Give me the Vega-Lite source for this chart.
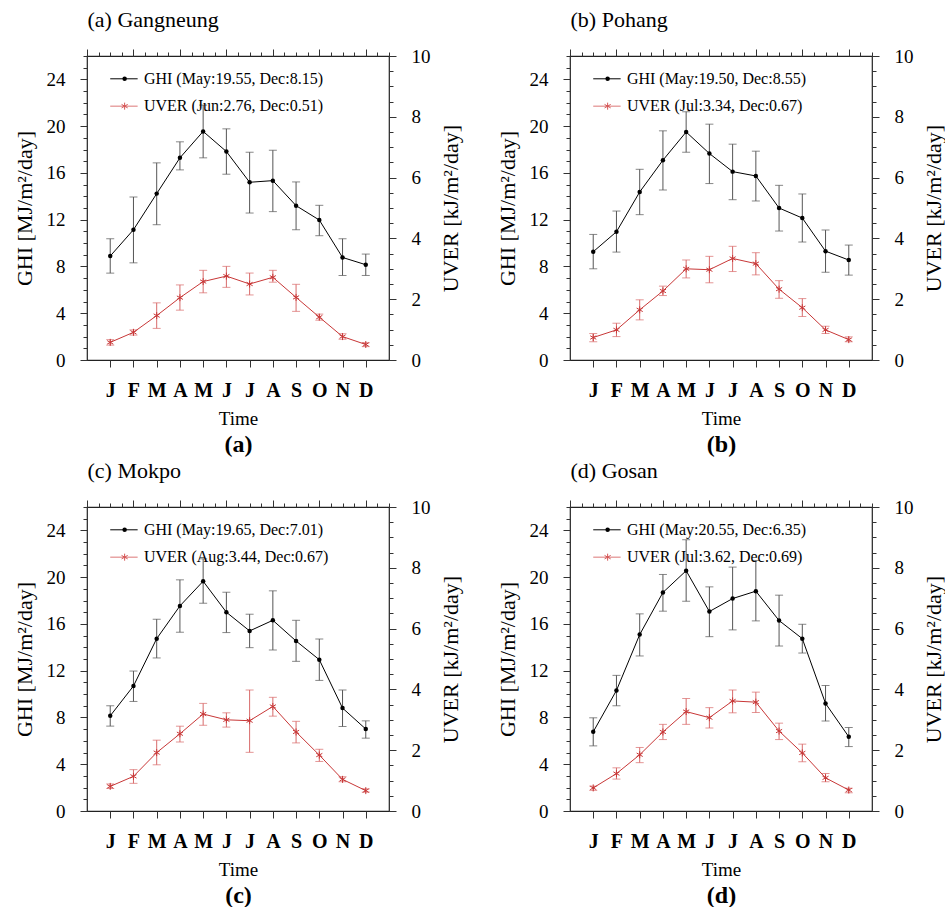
{
"$schema":"https://vega.github.io/schema/vega-lite/v6.json",
"background":"white",
"padding":{"left":12,"top":7,"right":0,"bottom":0},
"datasets":{
"main":[
{"station":"Gangneung","var":"GHI","month":1,"mean":8.89,"lo":7.43,"hi":10.37},
{"station":"Gangneung","var":"GHI","month":2,"mean":11.14,"lo":8.31,"hi":13.94},
{"station":"Gangneung","var":"GHI","month":3,"mean":14.23,"lo":11.57,"hi":16.86},
{"station":"Gangneung","var":"GHI","month":4,"mean":17.29,"lo":16.26,"hi":18.66},
{"station":"Gangneung","var":"GHI","month":5,"mean":19.55,"lo":17.29,"hi":21.8},
{"station":"Gangneung","var":"GHI","month":6,"mean":17.83,"lo":15.89,"hi":19.77},
{"station":"Gangneung","var":"GHI","month":7,"mean":15.2,"lo":12.57,"hi":17.77},
{"station":"Gangneung","var":"GHI","month":8,"mean":15.34,"lo":12.69,"hi":17.94},
{"station":"Gangneung","var":"GHI","month":9,"mean":13.2,"lo":11.14,"hi":15.23},
{"station":"Gangneung","var":"GHI","month":10,"mean":11.97,"lo":10.63,"hi":13.23},
{"station":"Gangneung","var":"GHI","month":11,"mean":8.77,"lo":7.23,"hi":10.37},
{"station":"Gangneung","var":"GHI","month":12,"mean":8.15,"lo":7.23,"hi":9.06},
{"station":"Gangneung","var":"UVER","month":1,"mean":0.58,"lo":0.49,"hi":0.67},
{"station":"Gangneung","var":"UVER","month":2,"mean":0.91,"lo":0.82,"hi":0.99},
{"station":"Gangneung","var":"UVER","month":3,"mean":1.46,"lo":1.04,"hi":1.88},
{"station":"Gangneung","var":"UVER","month":4,"mean":2.05,"lo":1.64,"hi":2.47},
{"station":"Gangneung","var":"UVER","month":5,"mean":2.58,"lo":2.21,"hi":2.95},
{"station":"Gangneung","var":"UVER","month":6,"mean":2.76,"lo":2.39,"hi":3.08},
{"station":"Gangneung","var":"UVER","month":7,"mean":2.5,"lo":2.14,"hi":2.86},
{"station":"Gangneung","var":"UVER","month":8,"mean":2.72,"lo":2.56,"hi":2.95},
{"station":"Gangneung","var":"UVER","month":9,"mean":2.06,"lo":1.6,"hi":2.49},
{"station":"Gangneung","var":"UVER","month":10,"mean":1.41,"lo":1.31,"hi":1.51},
{"station":"Gangneung","var":"UVER","month":11,"mean":0.77,"lo":0.68,"hi":0.86},
{"station":"Gangneung","var":"UVER","month":12,"mean":0.51,"lo":0.44,"hi":0.57},
{"station":"Pohang","var":"GHI","month":1,"mean":9.26,"lo":7.8,"hi":10.74},
{"station":"Pohang","var":"GHI","month":2,"mean":10.97,"lo":9.23,"hi":12.74},
{"station":"Pohang","var":"GHI","month":3,"mean":14.37,"lo":12.43,"hi":16.31},
{"station":"Pohang","var":"GHI","month":4,"mean":17.09,"lo":14.54,"hi":19.6},
{"station":"Pohang","var":"GHI","month":5,"mean":19.5,"lo":17.77,"hi":21.23},
{"station":"Pohang","var":"GHI","month":6,"mean":17.66,"lo":15.09,"hi":20.17},
{"station":"Pohang","var":"GHI","month":7,"mean":16.11,"lo":13.71,"hi":18.46},
{"station":"Pohang","var":"GHI","month":8,"mean":15.74,"lo":13.6,"hi":17.86},
{"station":"Pohang","var":"GHI","month":9,"mean":13.0,"lo":11.03,"hi":14.94},
{"station":"Pohang","var":"GHI","month":10,"mean":12.14,"lo":10.09,"hi":14.2},
{"station":"Pohang","var":"GHI","month":11,"mean":9.31,"lo":7.51,"hi":11.11},
{"station":"Pohang","var":"GHI","month":12,"mean":8.55,"lo":7.26,"hi":9.83},
{"station":"Pohang","var":"UVER","month":1,"mean":0.74,"lo":0.6,"hi":0.87},
{"station":"Pohang","var":"UVER","month":2,"mean":0.99,"lo":0.77,"hi":1.21},
{"station":"Pohang","var":"UVER","month":3,"mean":1.65,"lo":1.32,"hi":1.98},
{"station":"Pohang","var":"UVER","month":4,"mean":2.27,"lo":2.12,"hi":2.43},
{"station":"Pohang","var":"UVER","month":5,"mean":3.0,"lo":2.7,"hi":3.29},
{"station":"Pohang","var":"UVER","month":6,"mean":2.97,"lo":2.54,"hi":3.41},
{"station":"Pohang","var":"UVER","month":7,"mean":3.34,"lo":2.91,"hi":3.74},
{"station":"Pohang","var":"UVER","month":8,"mean":3.17,"lo":2.8,"hi":3.53},
{"station":"Pohang","var":"UVER","month":9,"mean":2.33,"lo":2.03,"hi":2.61},
{"station":"Pohang","var":"UVER","month":10,"mean":1.72,"lo":1.43,"hi":2.02},
{"station":"Pohang","var":"UVER","month":11,"mean":0.99,"lo":0.87,"hi":1.11},
{"station":"Pohang","var":"UVER","month":12,"mean":0.67,"lo":0.6,"hi":0.76},
{"station":"Mokpo","var":"GHI","month":1,"mean":8.14,"lo":7.26,"hi":9.0},
{"station":"Mokpo","var":"GHI","month":2,"mean":10.69,"lo":9.37,"hi":11.97},
{"station":"Mokpo","var":"GHI","month":3,"mean":14.74,"lo":13.09,"hi":16.4},
{"station":"Mokpo","var":"GHI","month":4,"mean":17.54,"lo":15.29,"hi":19.77},
{"station":"Mokpo","var":"GHI","month":5,"mean":19.65,"lo":17.77,"hi":21.57},
{"station":"Mokpo","var":"GHI","month":6,"mean":17.0,"lo":15.26,"hi":18.71},
{"station":"Mokpo","var":"GHI","month":7,"mean":15.4,"lo":13.97,"hi":16.83},
{"station":"Mokpo","var":"GHI","month":8,"mean":16.31,"lo":13.77,"hi":18.83},
{"station":"Mokpo","var":"GHI","month":9,"mean":14.54,"lo":12.8,"hi":16.31},
{"station":"Mokpo","var":"GHI","month":10,"mean":12.94,"lo":11.17,"hi":14.71},
{"station":"Mokpo","var":"GHI","month":11,"mean":8.8,"lo":7.23,"hi":10.34},
{"station":"Mokpo","var":"GHI","month":12,"mean":7.01,"lo":6.23,"hi":7.71},
{"station":"Mokpo","var":"UVER","month":1,"mean":0.81,"lo":0.74,"hi":0.89},
{"station":"Mokpo","var":"UVER","month":2,"mean":1.14,"lo":0.91,"hi":1.36},
{"station":"Mokpo","var":"UVER","month":3,"mean":1.92,"lo":1.52,"hi":2.33},
{"station":"Mokpo","var":"UVER","month":4,"mean":2.54,"lo":2.27,"hi":2.79},
{"station":"Mokpo","var":"UVER","month":5,"mean":3.19,"lo":2.82,"hi":3.54},
{"station":"Mokpo","var":"UVER","month":6,"mean":3.0,"lo":2.76,"hi":3.23},
{"station":"Mokpo","var":"UVER","month":7,"mean":2.97,"lo":1.93,"hi":3.98},
{"station":"Mokpo","var":"UVER","month":8,"mean":3.44,"lo":3.12,"hi":3.74},
{"station":"Mokpo","var":"UVER","month":9,"mean":2.6,"lo":2.24,"hi":2.95},
{"station":"Mokpo","var":"UVER","month":10,"mean":1.84,"lo":1.63,"hi":2.03},
{"station":"Mokpo","var":"UVER","month":11,"mean":1.04,"lo":0.96,"hi":1.13},
{"station":"Mokpo","var":"UVER","month":12,"mean":0.67,"lo":0.62,"hi":0.73},
{"station":"Gosan","var":"GHI","month":1,"mean":6.77,"lo":5.57,"hi":7.97},
{"station":"Gosan","var":"GHI","month":2,"mean":10.31,"lo":9.0,"hi":11.6},
{"station":"Gosan","var":"GHI","month":3,"mean":15.09,"lo":13.26,"hi":16.86},
{"station":"Gosan","var":"GHI","month":4,"mean":18.69,"lo":17.09,"hi":20.23},
{"station":"Gosan","var":"GHI","month":5,"mean":20.55,"lo":17.94,"hi":23.2},
{"station":"Gosan","var":"GHI","month":6,"mean":17.06,"lo":14.91,"hi":19.17},
{"station":"Gosan","var":"GHI","month":7,"mean":18.17,"lo":15.49,"hi":20.86},
{"station":"Gosan","var":"GHI","month":8,"mean":18.8,"lo":16.26,"hi":21.43},
{"station":"Gosan","var":"GHI","month":9,"mean":16.29,"lo":14.11,"hi":18.46},
{"station":"Gosan","var":"GHI","month":10,"mean":14.74,"lo":13.51,"hi":15.97},
{"station":"Gosan","var":"GHI","month":11,"mean":9.2,"lo":7.69,"hi":10.74},
{"station":"Gosan","var":"GHI","month":12,"mean":6.35,"lo":5.51,"hi":7.14},
{"station":"Gosan","var":"UVER","month":1,"mean":0.76,"lo":0.68,"hi":0.82},
{"station":"Gosan","var":"UVER","month":2,"mean":1.23,"lo":1.05,"hi":1.42},
{"station":"Gosan","var":"UVER","month":3,"mean":1.85,"lo":1.59,"hi":2.09},
{"station":"Gosan","var":"UVER","month":4,"mean":2.6,"lo":2.35,"hi":2.85},
{"station":"Gosan","var":"UVER","month":5,"mean":3.27,"lo":2.85,"hi":3.7},
{"station":"Gosan","var":"UVER","month":6,"mean":3.07,"lo":2.73,"hi":3.4},
{"station":"Gosan","var":"UVER","month":7,"mean":3.62,"lo":3.23,"hi":3.98},
{"station":"Gosan","var":"UVER","month":8,"mean":3.58,"lo":3.24,"hi":3.91},
{"station":"Gosan","var":"UVER","month":9,"mean":2.63,"lo":2.35,"hi":2.89},
{"station":"Gosan","var":"UVER","month":10,"mean":1.91,"lo":1.62,"hi":2.2},
{"station":"Gosan","var":"UVER","month":11,"mean":1.09,"lo":0.96,"hi":1.23},
{"station":"Gosan","var":"UVER","month":12,"mean":0.69,"lo":0.6,"hi":0.75}
],
"legend":[
{"station":"Gangneung","var":"GHI","label":"GHI (May:19.55, Dec:8.15)"},
{"station":"Gangneung","var":"UVER","label":"UVER (Jun:2.76, Dec:0.51)"},
{"station":"Pohang","var":"GHI","label":"GHI (May:19.50, Dec:8.55)"},
{"station":"Pohang","var":"UVER","label":"UVER (Jul:3.34, Dec:0.67)"},
{"station":"Mokpo","var":"GHI","label":"GHI (May:19.65, Dec:7.01)"},
{"station":"Mokpo","var":"UVER","label":"UVER (Aug:3.44, Dec:0.67)"},
{"station":"Gosan","var":"GHI","label":"GHI (May:20.55, Dec:6.35)"},
{"station":"Gosan","var":"UVER","label":"UVER (Jul:3.62, Dec:0.69)"}
]
},
"spacing":1,
"vconcat":[
{"hconcat":[
{"width":302,"height":304,
"layer":[
{"data":{"name":"main"},"transform":[{"filter":"datum.station==='Gangneung' && datum.var==='GHI'"}],
"encoding":{"x":{"field":"month","type":"quantitative","scale":{"domain":[0,13],"nice":false,"zero":false},"axis":{"orient":"bottom","values":[1,2,3,4,5,6,7,8,9,10,11,12],"labelExpr":"['J','F','M','A','M','J','J','A','S','O','N','D'][datum.value-1]","labelFontSize":20,"labelFontWeight":"bold","labelBaseline":"alphabetic","labelPadding":29,"tickSize":7,"title":"Time","titleFontSize":19,"titleY":64,"titleBaseline":"alphabetic"}}},
"layer":[
{"mark":{"type":"rule","color":"#555","strokeWidth":1},"encoding":{"y":{"field":"lo","type":"quantitative","scale":{"domain":[0,26],"nice":false,"zero":false},"axis":{"orient":"left","values":[0,4,8,12,16,20,24],"tickSize":7,"labelPadding":15,"labelFontSize":19,"title":"GHI [MJ/m²/day]","titleFontSize":22,"titleX":-56,"titleAngle":270,"titleBaseline":"alphabetic","titleAlign":"center"}},"y2":{"field":"hi"}}},
{"mark":{"type":"tick","orient":"horizontal","size":8,"thickness":1,"color":"#555"},"encoding":{"y":{"field":"lo","type":"quantitative","scale":{"domain":[0,26],"nice":false,"zero":false},"axis":{"orient":"left","values":[0,4,8,12,16,20,24],"tickSize":7,"labelPadding":15,"labelFontSize":19,"title":"GHI [MJ/m²/day]","titleFontSize":22,"titleX":-56,"titleAngle":270,"titleBaseline":"alphabetic","titleAlign":"center"}}}},
{"mark":{"type":"tick","orient":"horizontal","size":8,"thickness":1,"color":"#555"},"encoding":{"y":{"field":"hi","type":"quantitative","scale":{"domain":[0,26],"nice":false,"zero":false},"axis":{"orient":"left","values":[0,4,8,12,16,20,24],"tickSize":7,"labelPadding":15,"labelFontSize":19,"title":"GHI [MJ/m²/day]","titleFontSize":22,"titleX":-56,"titleAngle":270,"titleBaseline":"alphabetic","titleAlign":"center"}}}},
{"mark":{"type":"line","color":"#000","strokeWidth":1},"encoding":{"y":{"field":"mean","type":"quantitative","scale":{"domain":[0,26],"nice":false,"zero":false},"axis":{"orient":"left","values":[0,4,8,12,16,20,24],"tickSize":7,"labelPadding":15,"labelFontSize":19,"title":"GHI [MJ/m²/day]","titleFontSize":22,"titleX":-56,"titleAngle":270,"titleBaseline":"alphabetic","titleAlign":"center"}}}},
{"mark":{"type":"point","shape":"circle","filled":true,"color":"#000","size":20,"opacity":1},"encoding":{"y":{"field":"mean","type":"quantitative","scale":{"domain":[0,26],"nice":false,"zero":false},"axis":{"orient":"left","values":[0,4,8,12,16,20,24],"tickSize":7,"labelPadding":15,"labelFontSize":19,"title":"GHI [MJ/m²/day]","titleFontSize":22,"titleX":-56,"titleAngle":270,"titleBaseline":"alphabetic","titleAlign":"center"}}}}
]},
{"data":{"name":"main"},"transform":[{"filter":"datum.station==='Gangneung' && datum.var==='UVER'"}],
"encoding":{"x":{"field":"month","type":"quantitative","scale":{"domain":[0,13],"nice":false,"zero":false},"axis":{"orient":"bottom","labels":false,"ticks":false,"domain":false,"title":"(a)","titleFontSize":24,"titleFontWeight":"bold","titleY":91,"titleBaseline":"alphabetic"}}},
"layer":[
{"mark":{"type":"rule","color":"#d86a6a","strokeWidth":1},"encoding":{"y":{"field":"lo","type":"quantitative","scale":{"domain":[0,10],"nice":false,"zero":false},"axis":{"orient":"right","values":[0,2,4,6,8,10],"tickSize":7,"labelPadding":15,"labelFontSize":19,"title":"UVER [kJ/m²/day]","titleFontSize":22,"titleX":68,"titleAngle":270,"titleBaseline":"alphabetic","titleAlign":"center"}},"y2":{"field":"hi"}}},
{"mark":{"type":"tick","orient":"horizontal","size":8,"thickness":1,"color":"#d86a6a"},"encoding":{"y":{"field":"lo","type":"quantitative","scale":{"domain":[0,10],"nice":false,"zero":false},"axis":{"orient":"right","values":[0,2,4,6,8,10],"tickSize":7,"labelPadding":15,"labelFontSize":19,"title":"UVER [kJ/m²/day]","titleFontSize":22,"titleX":68,"titleAngle":270,"titleBaseline":"alphabetic","titleAlign":"center"}}}},
{"mark":{"type":"tick","orient":"horizontal","size":8,"thickness":1,"color":"#d86a6a"},"encoding":{"y":{"field":"hi","type":"quantitative","scale":{"domain":[0,10],"nice":false,"zero":false},"axis":{"orient":"right","values":[0,2,4,6,8,10],"tickSize":7,"labelPadding":15,"labelFontSize":19,"title":"UVER [kJ/m²/day]","titleFontSize":22,"titleX":68,"titleAngle":270,"titleBaseline":"alphabetic","titleAlign":"center"}}}},
{"mark":{"type":"line","color":"#c83737","strokeWidth":1},"encoding":{"y":{"field":"mean","type":"quantitative","scale":{"domain":[0,10],"nice":false,"zero":false},"axis":{"orient":"right","values":[0,2,4,6,8,10],"tickSize":7,"labelPadding":15,"labelFontSize":19,"title":"UVER [kJ/m²/day]","titleFontSize":22,"titleX":68,"titleAngle":270,"titleBaseline":"alphabetic","titleAlign":"center"}}}},
{"mark":{"type":"point","shape":"M0,-1L0,1M-0.87,-0.5L0.87,0.5M-0.87,0.5L0.87,-0.5","filled":false,"color":"#c83737","strokeWidth":1,"size":49,"opacity":1},"encoding":{"y":{"field":"mean","type":"quantitative","scale":{"domain":[0,10],"nice":false,"zero":false},"axis":{"orient":"right","values":[0,2,4,6,8,10],"tickSize":7,"labelPadding":15,"labelFontSize":19,"title":"UVER [kJ/m²/day]","titleFontSize":22,"titleX":68,"titleAngle":270,"titleBaseline":"alphabetic","titleAlign":"center"}}}}
]},
{"data":{"name":"legend"},"transform":[{"filter":"datum.station==='Gangneung' && datum.var==='GHI'"}],
"encoding":{"y":{"datum":24.05,"type":"quantitative","scale":{"domain":[0,26],"nice":false,"zero":false},"axis":{"orient":"left","values":[0,1,2,3,4,5,6,7,8,9,10,11,12,13,14,15,16,17,18,19,20,21,22,23,24,25,26],"tickSize":4,"labels":false,"title":null}}},
"layer":[
{"mark":{"type":"rule","color":"#000","strokeWidth":1},"encoding":{"x":{"datum":1.0,"type":"quantitative","scale":{"domain":[0,13],"nice":false,"zero":false},"axis":{"orient":"top","values":[0,2,4,6,8,10,12],"tickSize":7,"labels":false,"title":"(a) Gangneung","titleFontSize":22,"titleX":0,"titleY":-30,"titleAlign":"left","titleAnchor":"start","titleBaseline":"alphabetic"}},"x2":{"datum":2.18}}},
{"mark":{"type":"point","shape":"circle","filled":true,"color":"#000","size":20,"opacity":1},"encoding":{"x":{"datum":1.62,"type":"quantitative","scale":{"domain":[0,13],"nice":false,"zero":false},"axis":{"orient":"top","values":[0,2,4,6,8,10,12],"tickSize":7,"labels":false,"title":"(a) Gangneung","titleFontSize":22,"titleX":0,"titleY":-30,"titleAlign":"left","titleAnchor":"start","titleBaseline":"alphabetic"}}}},
{"mark":{"type":"text","align":"left","baseline":"middle","fontSize":16,"font":"Liberation Serif","color":"#000"},"encoding":{"x":{"datum":2.45,"type":"quantitative","scale":{"domain":[0,13],"nice":false,"zero":false},"axis":{"orient":"top","values":[0,2,4,6,8,10,12],"tickSize":7,"labels":false,"title":"(a) Gangneung","titleFontSize":22,"titleX":0,"titleY":-30,"titleAlign":"left","titleAnchor":"start","titleBaseline":"alphabetic"}},"text":{"field":"label"}}}
]},
{"data":{"name":"legend"},"transform":[{"filter":"datum.station==='Gangneung' && datum.var==='UVER'"}],
"encoding":{"y":{"datum":8.35,"type":"quantitative","scale":{"domain":[0,10],"nice":false,"zero":false},"axis":{"orient":"right","values":[0,0.5,1,1.5,2,2.5,3,3.5,4,4.5,5,5.5,6,6.5,7,7.5,8,8.5,9,9.5,10],"tickSize":4,"labels":false,"title":null}}},
"layer":[
{"mark":{"type":"rule","color":"#dd7777","strokeWidth":1},"encoding":{"x":{"datum":1.0,"type":"quantitative","scale":{"domain":[0,13],"nice":false,"zero":false},"axis":{"orient":"top","values":[0,0.5,1,1.5,2,2.5,3,3.5,4,4.5,5,5.5,6,6.5,7,7.5,8,8.5,9,9.5,10,10.5,11,11.5,12,12.5,13],"tickSize":4,"labels":false,"title":null}},"x2":{"datum":2.18}}},
{"mark":{"type":"point","shape":"M0,-1L0,1M-0.87,-0.5L0.87,0.5M-0.87,0.5L0.87,-0.5","filled":false,"color":"#d55555","strokeWidth":1,"size":49,"opacity":1},"encoding":{"x":{"datum":1.62,"type":"quantitative","scale":{"domain":[0,13],"nice":false,"zero":false},"axis":{"orient":"top","values":[0,0.5,1,1.5,2,2.5,3,3.5,4,4.5,5,5.5,6,6.5,7,7.5,8,8.5,9,9.5,10,10.5,11,11.5,12,12.5,13],"tickSize":4,"labels":false,"title":null}}}},
{"mark":{"type":"text","align":"left","baseline":"middle","fontSize":16,"font":"Liberation Serif","color":"#000"},"encoding":{"x":{"datum":2.45,"type":"quantitative","scale":{"domain":[0,13],"nice":false,"zero":false},"axis":{"orient":"top","values":[0,0.5,1,1.5,2,2.5,3,3.5,4,4.5,5,5.5,6,6.5,7,7.5,8,8.5,9,9.5,10,10.5,11,11.5,12,12.5,13],"tickSize":4,"labels":false,"title":null}},"text":{"field":"label"}}}
]}
],
"resolve":{"scale":{"y":"independent"},"axis":{"x":"independent","y":"independent"}}
},
{"width":302,"height":304,
"layer":[
{"data":{"name":"main"},"transform":[{"filter":"datum.station==='Pohang' && datum.var==='GHI'"}],
"encoding":{"x":{"field":"month","type":"quantitative","scale":{"domain":[0,13],"nice":false,"zero":false},"axis":{"orient":"bottom","values":[1,2,3,4,5,6,7,8,9,10,11,12],"labelExpr":"['J','F','M','A','M','J','J','A','S','O','N','D'][datum.value-1]","labelFontSize":20,"labelFontWeight":"bold","labelBaseline":"alphabetic","labelPadding":29,"tickSize":7,"title":"Time","titleFontSize":19,"titleY":64,"titleBaseline":"alphabetic"}}},
"layer":[
{"mark":{"type":"rule","color":"#555","strokeWidth":1},"encoding":{"y":{"field":"lo","type":"quantitative","scale":{"domain":[0,26],"nice":false,"zero":false},"axis":{"orient":"left","values":[0,4,8,12,16,20,24],"tickSize":7,"labelPadding":15,"labelFontSize":19,"title":"GHI [MJ/m²/day]","titleFontSize":22,"titleX":-56,"titleAngle":270,"titleBaseline":"alphabetic","titleAlign":"center"}},"y2":{"field":"hi"}}},
{"mark":{"type":"tick","orient":"horizontal","size":8,"thickness":1,"color":"#555"},"encoding":{"y":{"field":"lo","type":"quantitative","scale":{"domain":[0,26],"nice":false,"zero":false},"axis":{"orient":"left","values":[0,4,8,12,16,20,24],"tickSize":7,"labelPadding":15,"labelFontSize":19,"title":"GHI [MJ/m²/day]","titleFontSize":22,"titleX":-56,"titleAngle":270,"titleBaseline":"alphabetic","titleAlign":"center"}}}},
{"mark":{"type":"tick","orient":"horizontal","size":8,"thickness":1,"color":"#555"},"encoding":{"y":{"field":"hi","type":"quantitative","scale":{"domain":[0,26],"nice":false,"zero":false},"axis":{"orient":"left","values":[0,4,8,12,16,20,24],"tickSize":7,"labelPadding":15,"labelFontSize":19,"title":"GHI [MJ/m²/day]","titleFontSize":22,"titleX":-56,"titleAngle":270,"titleBaseline":"alphabetic","titleAlign":"center"}}}},
{"mark":{"type":"line","color":"#000","strokeWidth":1},"encoding":{"y":{"field":"mean","type":"quantitative","scale":{"domain":[0,26],"nice":false,"zero":false},"axis":{"orient":"left","values":[0,4,8,12,16,20,24],"tickSize":7,"labelPadding":15,"labelFontSize":19,"title":"GHI [MJ/m²/day]","titleFontSize":22,"titleX":-56,"titleAngle":270,"titleBaseline":"alphabetic","titleAlign":"center"}}}},
{"mark":{"type":"point","shape":"circle","filled":true,"color":"#000","size":20,"opacity":1},"encoding":{"y":{"field":"mean","type":"quantitative","scale":{"domain":[0,26],"nice":false,"zero":false},"axis":{"orient":"left","values":[0,4,8,12,16,20,24],"tickSize":7,"labelPadding":15,"labelFontSize":19,"title":"GHI [MJ/m²/day]","titleFontSize":22,"titleX":-56,"titleAngle":270,"titleBaseline":"alphabetic","titleAlign":"center"}}}}
]},
{"data":{"name":"main"},"transform":[{"filter":"datum.station==='Pohang' && datum.var==='UVER'"}],
"encoding":{"x":{"field":"month","type":"quantitative","scale":{"domain":[0,13],"nice":false,"zero":false},"axis":{"orient":"bottom","labels":false,"ticks":false,"domain":false,"title":"(b)","titleFontSize":24,"titleFontWeight":"bold","titleY":91,"titleBaseline":"alphabetic"}}},
"layer":[
{"mark":{"type":"rule","color":"#d86a6a","strokeWidth":1},"encoding":{"y":{"field":"lo","type":"quantitative","scale":{"domain":[0,10],"nice":false,"zero":false},"axis":{"orient":"right","values":[0,2,4,6,8,10],"tickSize":7,"labelPadding":15,"labelFontSize":19,"title":"UVER [kJ/m²/day]","titleFontSize":22,"titleX":68,"titleAngle":270,"titleBaseline":"alphabetic","titleAlign":"center"}},"y2":{"field":"hi"}}},
{"mark":{"type":"tick","orient":"horizontal","size":8,"thickness":1,"color":"#d86a6a"},"encoding":{"y":{"field":"lo","type":"quantitative","scale":{"domain":[0,10],"nice":false,"zero":false},"axis":{"orient":"right","values":[0,2,4,6,8,10],"tickSize":7,"labelPadding":15,"labelFontSize":19,"title":"UVER [kJ/m²/day]","titleFontSize":22,"titleX":68,"titleAngle":270,"titleBaseline":"alphabetic","titleAlign":"center"}}}},
{"mark":{"type":"tick","orient":"horizontal","size":8,"thickness":1,"color":"#d86a6a"},"encoding":{"y":{"field":"hi","type":"quantitative","scale":{"domain":[0,10],"nice":false,"zero":false},"axis":{"orient":"right","values":[0,2,4,6,8,10],"tickSize":7,"labelPadding":15,"labelFontSize":19,"title":"UVER [kJ/m²/day]","titleFontSize":22,"titleX":68,"titleAngle":270,"titleBaseline":"alphabetic","titleAlign":"center"}}}},
{"mark":{"type":"line","color":"#c83737","strokeWidth":1},"encoding":{"y":{"field":"mean","type":"quantitative","scale":{"domain":[0,10],"nice":false,"zero":false},"axis":{"orient":"right","values":[0,2,4,6,8,10],"tickSize":7,"labelPadding":15,"labelFontSize":19,"title":"UVER [kJ/m²/day]","titleFontSize":22,"titleX":68,"titleAngle":270,"titleBaseline":"alphabetic","titleAlign":"center"}}}},
{"mark":{"type":"point","shape":"M0,-1L0,1M-0.87,-0.5L0.87,0.5M-0.87,0.5L0.87,-0.5","filled":false,"color":"#c83737","strokeWidth":1,"size":49,"opacity":1},"encoding":{"y":{"field":"mean","type":"quantitative","scale":{"domain":[0,10],"nice":false,"zero":false},"axis":{"orient":"right","values":[0,2,4,6,8,10],"tickSize":7,"labelPadding":15,"labelFontSize":19,"title":"UVER [kJ/m²/day]","titleFontSize":22,"titleX":68,"titleAngle":270,"titleBaseline":"alphabetic","titleAlign":"center"}}}}
]},
{"data":{"name":"legend"},"transform":[{"filter":"datum.station==='Pohang' && datum.var==='GHI'"}],
"encoding":{"y":{"datum":24.05,"type":"quantitative","scale":{"domain":[0,26],"nice":false,"zero":false},"axis":{"orient":"left","values":[0,1,2,3,4,5,6,7,8,9,10,11,12,13,14,15,16,17,18,19,20,21,22,23,24,25,26],"tickSize":4,"labels":false,"title":null}}},
"layer":[
{"mark":{"type":"rule","color":"#000","strokeWidth":1},"encoding":{"x":{"datum":1.0,"type":"quantitative","scale":{"domain":[0,13],"nice":false,"zero":false},"axis":{"orient":"top","values":[0,2,4,6,8,10,12],"tickSize":7,"labels":false,"title":"(b) Pohang","titleFontSize":22,"titleX":0,"titleY":-30,"titleAlign":"left","titleAnchor":"start","titleBaseline":"alphabetic"}},"x2":{"datum":2.18}}},
{"mark":{"type":"point","shape":"circle","filled":true,"color":"#000","size":20,"opacity":1},"encoding":{"x":{"datum":1.62,"type":"quantitative","scale":{"domain":[0,13],"nice":false,"zero":false},"axis":{"orient":"top","values":[0,2,4,6,8,10,12],"tickSize":7,"labels":false,"title":"(b) Pohang","titleFontSize":22,"titleX":0,"titleY":-30,"titleAlign":"left","titleAnchor":"start","titleBaseline":"alphabetic"}}}},
{"mark":{"type":"text","align":"left","baseline":"middle","fontSize":16,"font":"Liberation Serif","color":"#000"},"encoding":{"x":{"datum":2.45,"type":"quantitative","scale":{"domain":[0,13],"nice":false,"zero":false},"axis":{"orient":"top","values":[0,2,4,6,8,10,12],"tickSize":7,"labels":false,"title":"(b) Pohang","titleFontSize":22,"titleX":0,"titleY":-30,"titleAlign":"left","titleAnchor":"start","titleBaseline":"alphabetic"}},"text":{"field":"label"}}}
]},
{"data":{"name":"legend"},"transform":[{"filter":"datum.station==='Pohang' && datum.var==='UVER'"}],
"encoding":{"y":{"datum":8.35,"type":"quantitative","scale":{"domain":[0,10],"nice":false,"zero":false},"axis":{"orient":"right","values":[0,0.5,1,1.5,2,2.5,3,3.5,4,4.5,5,5.5,6,6.5,7,7.5,8,8.5,9,9.5,10],"tickSize":4,"labels":false,"title":null}}},
"layer":[
{"mark":{"type":"rule","color":"#dd7777","strokeWidth":1},"encoding":{"x":{"datum":1.0,"type":"quantitative","scale":{"domain":[0,13],"nice":false,"zero":false},"axis":{"orient":"top","values":[0,0.5,1,1.5,2,2.5,3,3.5,4,4.5,5,5.5,6,6.5,7,7.5,8,8.5,9,9.5,10,10.5,11,11.5,12,12.5,13],"tickSize":4,"labels":false,"title":null}},"x2":{"datum":2.18}}},
{"mark":{"type":"point","shape":"M0,-1L0,1M-0.87,-0.5L0.87,0.5M-0.87,0.5L0.87,-0.5","filled":false,"color":"#d55555","strokeWidth":1,"size":49,"opacity":1},"encoding":{"x":{"datum":1.62,"type":"quantitative","scale":{"domain":[0,13],"nice":false,"zero":false},"axis":{"orient":"top","values":[0,0.5,1,1.5,2,2.5,3,3.5,4,4.5,5,5.5,6,6.5,7,7.5,8,8.5,9,9.5,10,10.5,11,11.5,12,12.5,13],"tickSize":4,"labels":false,"title":null}}}},
{"mark":{"type":"text","align":"left","baseline":"middle","fontSize":16,"font":"Liberation Serif","color":"#000"},"encoding":{"x":{"datum":2.45,"type":"quantitative","scale":{"domain":[0,13],"nice":false,"zero":false},"axis":{"orient":"top","values":[0,0.5,1,1.5,2,2.5,3,3.5,4,4.5,5,5.5,6,6.5,7,7.5,8,8.5,9,9.5,10,10.5,11,11.5,12,12.5,13],"tickSize":4,"labels":false,"title":null}},"text":{"field":"label"}}}
]}
],
"resolve":{"scale":{"y":"independent"},"axis":{"x":"independent","y":"independent"}}
}
],"spacing":33},
{"hconcat":[
{"width":302,"height":304,
"layer":[
{"data":{"name":"main"},"transform":[{"filter":"datum.station==='Mokpo' && datum.var==='GHI'"}],
"encoding":{"x":{"field":"month","type":"quantitative","scale":{"domain":[0,13],"nice":false,"zero":false},"axis":{"orient":"bottom","values":[1,2,3,4,5,6,7,8,9,10,11,12],"labelExpr":"['J','F','M','A','M','J','J','A','S','O','N','D'][datum.value-1]","labelFontSize":20,"labelFontWeight":"bold","labelBaseline":"alphabetic","labelPadding":29,"tickSize":7,"title":"Time","titleFontSize":19,"titleY":64,"titleBaseline":"alphabetic"}}},
"layer":[
{"mark":{"type":"rule","color":"#555","strokeWidth":1},"encoding":{"y":{"field":"lo","type":"quantitative","scale":{"domain":[0,26],"nice":false,"zero":false},"axis":{"orient":"left","values":[0,4,8,12,16,20,24],"tickSize":7,"labelPadding":15,"labelFontSize":19,"title":"GHI [MJ/m²/day]","titleFontSize":22,"titleX":-56,"titleAngle":270,"titleBaseline":"alphabetic","titleAlign":"center"}},"y2":{"field":"hi"}}},
{"mark":{"type":"tick","orient":"horizontal","size":8,"thickness":1,"color":"#555"},"encoding":{"y":{"field":"lo","type":"quantitative","scale":{"domain":[0,26],"nice":false,"zero":false},"axis":{"orient":"left","values":[0,4,8,12,16,20,24],"tickSize":7,"labelPadding":15,"labelFontSize":19,"title":"GHI [MJ/m²/day]","titleFontSize":22,"titleX":-56,"titleAngle":270,"titleBaseline":"alphabetic","titleAlign":"center"}}}},
{"mark":{"type":"tick","orient":"horizontal","size":8,"thickness":1,"color":"#555"},"encoding":{"y":{"field":"hi","type":"quantitative","scale":{"domain":[0,26],"nice":false,"zero":false},"axis":{"orient":"left","values":[0,4,8,12,16,20,24],"tickSize":7,"labelPadding":15,"labelFontSize":19,"title":"GHI [MJ/m²/day]","titleFontSize":22,"titleX":-56,"titleAngle":270,"titleBaseline":"alphabetic","titleAlign":"center"}}}},
{"mark":{"type":"line","color":"#000","strokeWidth":1},"encoding":{"y":{"field":"mean","type":"quantitative","scale":{"domain":[0,26],"nice":false,"zero":false},"axis":{"orient":"left","values":[0,4,8,12,16,20,24],"tickSize":7,"labelPadding":15,"labelFontSize":19,"title":"GHI [MJ/m²/day]","titleFontSize":22,"titleX":-56,"titleAngle":270,"titleBaseline":"alphabetic","titleAlign":"center"}}}},
{"mark":{"type":"point","shape":"circle","filled":true,"color":"#000","size":20,"opacity":1},"encoding":{"y":{"field":"mean","type":"quantitative","scale":{"domain":[0,26],"nice":false,"zero":false},"axis":{"orient":"left","values":[0,4,8,12,16,20,24],"tickSize":7,"labelPadding":15,"labelFontSize":19,"title":"GHI [MJ/m²/day]","titleFontSize":22,"titleX":-56,"titleAngle":270,"titleBaseline":"alphabetic","titleAlign":"center"}}}}
]},
{"data":{"name":"main"},"transform":[{"filter":"datum.station==='Mokpo' && datum.var==='UVER'"}],
"encoding":{"x":{"field":"month","type":"quantitative","scale":{"domain":[0,13],"nice":false,"zero":false},"axis":{"orient":"bottom","labels":false,"ticks":false,"domain":false,"title":"(c)","titleFontSize":24,"titleFontWeight":"bold","titleY":91,"titleBaseline":"alphabetic"}}},
"layer":[
{"mark":{"type":"rule","color":"#d86a6a","strokeWidth":1},"encoding":{"y":{"field":"lo","type":"quantitative","scale":{"domain":[0,10],"nice":false,"zero":false},"axis":{"orient":"right","values":[0,2,4,6,8,10],"tickSize":7,"labelPadding":15,"labelFontSize":19,"title":"UVER [kJ/m²/day]","titleFontSize":22,"titleX":68,"titleAngle":270,"titleBaseline":"alphabetic","titleAlign":"center"}},"y2":{"field":"hi"}}},
{"mark":{"type":"tick","orient":"horizontal","size":8,"thickness":1,"color":"#d86a6a"},"encoding":{"y":{"field":"lo","type":"quantitative","scale":{"domain":[0,10],"nice":false,"zero":false},"axis":{"orient":"right","values":[0,2,4,6,8,10],"tickSize":7,"labelPadding":15,"labelFontSize":19,"title":"UVER [kJ/m²/day]","titleFontSize":22,"titleX":68,"titleAngle":270,"titleBaseline":"alphabetic","titleAlign":"center"}}}},
{"mark":{"type":"tick","orient":"horizontal","size":8,"thickness":1,"color":"#d86a6a"},"encoding":{"y":{"field":"hi","type":"quantitative","scale":{"domain":[0,10],"nice":false,"zero":false},"axis":{"orient":"right","values":[0,2,4,6,8,10],"tickSize":7,"labelPadding":15,"labelFontSize":19,"title":"UVER [kJ/m²/day]","titleFontSize":22,"titleX":68,"titleAngle":270,"titleBaseline":"alphabetic","titleAlign":"center"}}}},
{"mark":{"type":"line","color":"#c83737","strokeWidth":1},"encoding":{"y":{"field":"mean","type":"quantitative","scale":{"domain":[0,10],"nice":false,"zero":false},"axis":{"orient":"right","values":[0,2,4,6,8,10],"tickSize":7,"labelPadding":15,"labelFontSize":19,"title":"UVER [kJ/m²/day]","titleFontSize":22,"titleX":68,"titleAngle":270,"titleBaseline":"alphabetic","titleAlign":"center"}}}},
{"mark":{"type":"point","shape":"M0,-1L0,1M-0.87,-0.5L0.87,0.5M-0.87,0.5L0.87,-0.5","filled":false,"color":"#c83737","strokeWidth":1,"size":49,"opacity":1},"encoding":{"y":{"field":"mean","type":"quantitative","scale":{"domain":[0,10],"nice":false,"zero":false},"axis":{"orient":"right","values":[0,2,4,6,8,10],"tickSize":7,"labelPadding":15,"labelFontSize":19,"title":"UVER [kJ/m²/day]","titleFontSize":22,"titleX":68,"titleAngle":270,"titleBaseline":"alphabetic","titleAlign":"center"}}}}
]},
{"data":{"name":"legend"},"transform":[{"filter":"datum.station==='Mokpo' && datum.var==='GHI'"}],
"encoding":{"y":{"datum":24.05,"type":"quantitative","scale":{"domain":[0,26],"nice":false,"zero":false},"axis":{"orient":"left","values":[0,1,2,3,4,5,6,7,8,9,10,11,12,13,14,15,16,17,18,19,20,21,22,23,24,25,26],"tickSize":4,"labels":false,"title":null}}},
"layer":[
{"mark":{"type":"rule","color":"#000","strokeWidth":1},"encoding":{"x":{"datum":1.0,"type":"quantitative","scale":{"domain":[0,13],"nice":false,"zero":false},"axis":{"orient":"top","values":[0,2,4,6,8,10,12],"tickSize":7,"labels":false,"title":"(c) Mokpo","titleFontSize":22,"titleX":0,"titleY":-30,"titleAlign":"left","titleAnchor":"start","titleBaseline":"alphabetic"}},"x2":{"datum":2.18}}},
{"mark":{"type":"point","shape":"circle","filled":true,"color":"#000","size":20,"opacity":1},"encoding":{"x":{"datum":1.62,"type":"quantitative","scale":{"domain":[0,13],"nice":false,"zero":false},"axis":{"orient":"top","values":[0,2,4,6,8,10,12],"tickSize":7,"labels":false,"title":"(c) Mokpo","titleFontSize":22,"titleX":0,"titleY":-30,"titleAlign":"left","titleAnchor":"start","titleBaseline":"alphabetic"}}}},
{"mark":{"type":"text","align":"left","baseline":"middle","fontSize":16,"font":"Liberation Serif","color":"#000"},"encoding":{"x":{"datum":2.45,"type":"quantitative","scale":{"domain":[0,13],"nice":false,"zero":false},"axis":{"orient":"top","values":[0,2,4,6,8,10,12],"tickSize":7,"labels":false,"title":"(c) Mokpo","titleFontSize":22,"titleX":0,"titleY":-30,"titleAlign":"left","titleAnchor":"start","titleBaseline":"alphabetic"}},"text":{"field":"label"}}}
]},
{"data":{"name":"legend"},"transform":[{"filter":"datum.station==='Mokpo' && datum.var==='UVER'"}],
"encoding":{"y":{"datum":8.35,"type":"quantitative","scale":{"domain":[0,10],"nice":false,"zero":false},"axis":{"orient":"right","values":[0,0.5,1,1.5,2,2.5,3,3.5,4,4.5,5,5.5,6,6.5,7,7.5,8,8.5,9,9.5,10],"tickSize":4,"labels":false,"title":null}}},
"layer":[
{"mark":{"type":"rule","color":"#dd7777","strokeWidth":1},"encoding":{"x":{"datum":1.0,"type":"quantitative","scale":{"domain":[0,13],"nice":false,"zero":false},"axis":{"orient":"top","values":[0,0.5,1,1.5,2,2.5,3,3.5,4,4.5,5,5.5,6,6.5,7,7.5,8,8.5,9,9.5,10,10.5,11,11.5,12,12.5,13],"tickSize":4,"labels":false,"title":null}},"x2":{"datum":2.18}}},
{"mark":{"type":"point","shape":"M0,-1L0,1M-0.87,-0.5L0.87,0.5M-0.87,0.5L0.87,-0.5","filled":false,"color":"#d55555","strokeWidth":1,"size":49,"opacity":1},"encoding":{"x":{"datum":1.62,"type":"quantitative","scale":{"domain":[0,13],"nice":false,"zero":false},"axis":{"orient":"top","values":[0,0.5,1,1.5,2,2.5,3,3.5,4,4.5,5,5.5,6,6.5,7,7.5,8,8.5,9,9.5,10,10.5,11,11.5,12,12.5,13],"tickSize":4,"labels":false,"title":null}}}},
{"mark":{"type":"text","align":"left","baseline":"middle","fontSize":16,"font":"Liberation Serif","color":"#000"},"encoding":{"x":{"datum":2.45,"type":"quantitative","scale":{"domain":[0,13],"nice":false,"zero":false},"axis":{"orient":"top","values":[0,0.5,1,1.5,2,2.5,3,3.5,4,4.5,5,5.5,6,6.5,7,7.5,8,8.5,9,9.5,10,10.5,11,11.5,12,12.5,13],"tickSize":4,"labels":false,"title":null}},"text":{"field":"label"}}}
]}
],
"resolve":{"scale":{"y":"independent"},"axis":{"x":"independent","y":"independent"}}
},
{"width":302,"height":304,
"layer":[
{"data":{"name":"main"},"transform":[{"filter":"datum.station==='Gosan' && datum.var==='GHI'"}],
"encoding":{"x":{"field":"month","type":"quantitative","scale":{"domain":[0,13],"nice":false,"zero":false},"axis":{"orient":"bottom","values":[1,2,3,4,5,6,7,8,9,10,11,12],"labelExpr":"['J','F','M','A','M','J','J','A','S','O','N','D'][datum.value-1]","labelFontSize":20,"labelFontWeight":"bold","labelBaseline":"alphabetic","labelPadding":29,"tickSize":7,"title":"Time","titleFontSize":19,"titleY":64,"titleBaseline":"alphabetic"}}},
"layer":[
{"mark":{"type":"rule","color":"#555","strokeWidth":1},"encoding":{"y":{"field":"lo","type":"quantitative","scale":{"domain":[0,26],"nice":false,"zero":false},"axis":{"orient":"left","values":[0,4,8,12,16,20,24],"tickSize":7,"labelPadding":15,"labelFontSize":19,"title":"GHI [MJ/m²/day]","titleFontSize":22,"titleX":-56,"titleAngle":270,"titleBaseline":"alphabetic","titleAlign":"center"}},"y2":{"field":"hi"}}},
{"mark":{"type":"tick","orient":"horizontal","size":8,"thickness":1,"color":"#555"},"encoding":{"y":{"field":"lo","type":"quantitative","scale":{"domain":[0,26],"nice":false,"zero":false},"axis":{"orient":"left","values":[0,4,8,12,16,20,24],"tickSize":7,"labelPadding":15,"labelFontSize":19,"title":"GHI [MJ/m²/day]","titleFontSize":22,"titleX":-56,"titleAngle":270,"titleBaseline":"alphabetic","titleAlign":"center"}}}},
{"mark":{"type":"tick","orient":"horizontal","size":8,"thickness":1,"color":"#555"},"encoding":{"y":{"field":"hi","type":"quantitative","scale":{"domain":[0,26],"nice":false,"zero":false},"axis":{"orient":"left","values":[0,4,8,12,16,20,24],"tickSize":7,"labelPadding":15,"labelFontSize":19,"title":"GHI [MJ/m²/day]","titleFontSize":22,"titleX":-56,"titleAngle":270,"titleBaseline":"alphabetic","titleAlign":"center"}}}},
{"mark":{"type":"line","color":"#000","strokeWidth":1},"encoding":{"y":{"field":"mean","type":"quantitative","scale":{"domain":[0,26],"nice":false,"zero":false},"axis":{"orient":"left","values":[0,4,8,12,16,20,24],"tickSize":7,"labelPadding":15,"labelFontSize":19,"title":"GHI [MJ/m²/day]","titleFontSize":22,"titleX":-56,"titleAngle":270,"titleBaseline":"alphabetic","titleAlign":"center"}}}},
{"mark":{"type":"point","shape":"circle","filled":true,"color":"#000","size":20,"opacity":1},"encoding":{"y":{"field":"mean","type":"quantitative","scale":{"domain":[0,26],"nice":false,"zero":false},"axis":{"orient":"left","values":[0,4,8,12,16,20,24],"tickSize":7,"labelPadding":15,"labelFontSize":19,"title":"GHI [MJ/m²/day]","titleFontSize":22,"titleX":-56,"titleAngle":270,"titleBaseline":"alphabetic","titleAlign":"center"}}}}
]},
{"data":{"name":"main"},"transform":[{"filter":"datum.station==='Gosan' && datum.var==='UVER'"}],
"encoding":{"x":{"field":"month","type":"quantitative","scale":{"domain":[0,13],"nice":false,"zero":false},"axis":{"orient":"bottom","labels":false,"ticks":false,"domain":false,"title":"(d)","titleFontSize":24,"titleFontWeight":"bold","titleY":91,"titleBaseline":"alphabetic"}}},
"layer":[
{"mark":{"type":"rule","color":"#d86a6a","strokeWidth":1},"encoding":{"y":{"field":"lo","type":"quantitative","scale":{"domain":[0,10],"nice":false,"zero":false},"axis":{"orient":"right","values":[0,2,4,6,8,10],"tickSize":7,"labelPadding":15,"labelFontSize":19,"title":"UVER [kJ/m²/day]","titleFontSize":22,"titleX":68,"titleAngle":270,"titleBaseline":"alphabetic","titleAlign":"center"}},"y2":{"field":"hi"}}},
{"mark":{"type":"tick","orient":"horizontal","size":8,"thickness":1,"color":"#d86a6a"},"encoding":{"y":{"field":"lo","type":"quantitative","scale":{"domain":[0,10],"nice":false,"zero":false},"axis":{"orient":"right","values":[0,2,4,6,8,10],"tickSize":7,"labelPadding":15,"labelFontSize":19,"title":"UVER [kJ/m²/day]","titleFontSize":22,"titleX":68,"titleAngle":270,"titleBaseline":"alphabetic","titleAlign":"center"}}}},
{"mark":{"type":"tick","orient":"horizontal","size":8,"thickness":1,"color":"#d86a6a"},"encoding":{"y":{"field":"hi","type":"quantitative","scale":{"domain":[0,10],"nice":false,"zero":false},"axis":{"orient":"right","values":[0,2,4,6,8,10],"tickSize":7,"labelPadding":15,"labelFontSize":19,"title":"UVER [kJ/m²/day]","titleFontSize":22,"titleX":68,"titleAngle":270,"titleBaseline":"alphabetic","titleAlign":"center"}}}},
{"mark":{"type":"line","color":"#c83737","strokeWidth":1},"encoding":{"y":{"field":"mean","type":"quantitative","scale":{"domain":[0,10],"nice":false,"zero":false},"axis":{"orient":"right","values":[0,2,4,6,8,10],"tickSize":7,"labelPadding":15,"labelFontSize":19,"title":"UVER [kJ/m²/day]","titleFontSize":22,"titleX":68,"titleAngle":270,"titleBaseline":"alphabetic","titleAlign":"center"}}}},
{"mark":{"type":"point","shape":"M0,-1L0,1M-0.87,-0.5L0.87,0.5M-0.87,0.5L0.87,-0.5","filled":false,"color":"#c83737","strokeWidth":1,"size":49,"opacity":1},"encoding":{"y":{"field":"mean","type":"quantitative","scale":{"domain":[0,10],"nice":false,"zero":false},"axis":{"orient":"right","values":[0,2,4,6,8,10],"tickSize":7,"labelPadding":15,"labelFontSize":19,"title":"UVER [kJ/m²/day]","titleFontSize":22,"titleX":68,"titleAngle":270,"titleBaseline":"alphabetic","titleAlign":"center"}}}}
]},
{"data":{"name":"legend"},"transform":[{"filter":"datum.station==='Gosan' && datum.var==='GHI'"}],
"encoding":{"y":{"datum":24.05,"type":"quantitative","scale":{"domain":[0,26],"nice":false,"zero":false},"axis":{"orient":"left","values":[0,1,2,3,4,5,6,7,8,9,10,11,12,13,14,15,16,17,18,19,20,21,22,23,24,25,26],"tickSize":4,"labels":false,"title":null}}},
"layer":[
{"mark":{"type":"rule","color":"#000","strokeWidth":1},"encoding":{"x":{"datum":1.0,"type":"quantitative","scale":{"domain":[0,13],"nice":false,"zero":false},"axis":{"orient":"top","values":[0,2,4,6,8,10,12],"tickSize":7,"labels":false,"title":"(d) Gosan","titleFontSize":22,"titleX":0,"titleY":-30,"titleAlign":"left","titleAnchor":"start","titleBaseline":"alphabetic"}},"x2":{"datum":2.18}}},
{"mark":{"type":"point","shape":"circle","filled":true,"color":"#000","size":20,"opacity":1},"encoding":{"x":{"datum":1.62,"type":"quantitative","scale":{"domain":[0,13],"nice":false,"zero":false},"axis":{"orient":"top","values":[0,2,4,6,8,10,12],"tickSize":7,"labels":false,"title":"(d) Gosan","titleFontSize":22,"titleX":0,"titleY":-30,"titleAlign":"left","titleAnchor":"start","titleBaseline":"alphabetic"}}}},
{"mark":{"type":"text","align":"left","baseline":"middle","fontSize":16,"font":"Liberation Serif","color":"#000"},"encoding":{"x":{"datum":2.45,"type":"quantitative","scale":{"domain":[0,13],"nice":false,"zero":false},"axis":{"orient":"top","values":[0,2,4,6,8,10,12],"tickSize":7,"labels":false,"title":"(d) Gosan","titleFontSize":22,"titleX":0,"titleY":-30,"titleAlign":"left","titleAnchor":"start","titleBaseline":"alphabetic"}},"text":{"field":"label"}}}
]},
{"data":{"name":"legend"},"transform":[{"filter":"datum.station==='Gosan' && datum.var==='UVER'"}],
"encoding":{"y":{"datum":8.35,"type":"quantitative","scale":{"domain":[0,10],"nice":false,"zero":false},"axis":{"orient":"right","values":[0,0.5,1,1.5,2,2.5,3,3.5,4,4.5,5,5.5,6,6.5,7,7.5,8,8.5,9,9.5,10],"tickSize":4,"labels":false,"title":null}}},
"layer":[
{"mark":{"type":"rule","color":"#dd7777","strokeWidth":1},"encoding":{"x":{"datum":1.0,"type":"quantitative","scale":{"domain":[0,13],"nice":false,"zero":false},"axis":{"orient":"top","values":[0,0.5,1,1.5,2,2.5,3,3.5,4,4.5,5,5.5,6,6.5,7,7.5,8,8.5,9,9.5,10,10.5,11,11.5,12,12.5,13],"tickSize":4,"labels":false,"title":null}},"x2":{"datum":2.18}}},
{"mark":{"type":"point","shape":"M0,-1L0,1M-0.87,-0.5L0.87,0.5M-0.87,0.5L0.87,-0.5","filled":false,"color":"#d55555","strokeWidth":1,"size":49,"opacity":1},"encoding":{"x":{"datum":1.62,"type":"quantitative","scale":{"domain":[0,13],"nice":false,"zero":false},"axis":{"orient":"top","values":[0,0.5,1,1.5,2,2.5,3,3.5,4,4.5,5,5.5,6,6.5,7,7.5,8,8.5,9,9.5,10,10.5,11,11.5,12,12.5,13],"tickSize":4,"labels":false,"title":null}}}},
{"mark":{"type":"text","align":"left","baseline":"middle","fontSize":16,"font":"Liberation Serif","color":"#000"},"encoding":{"x":{"datum":2.45,"type":"quantitative","scale":{"domain":[0,13],"nice":false,"zero":false},"axis":{"orient":"top","values":[0,0.5,1,1.5,2,2.5,3,3.5,4,4.5,5,5.5,6,6.5,7,7.5,8,8.5,9,9.5,10,10.5,11,11.5,12,12.5,13],"tickSize":4,"labels":false,"title":null}},"text":{"field":"label"}}}
]}
],
"resolve":{"scale":{"y":"independent"},"axis":{"x":"independent","y":"independent"}}
}
],"spacing":33}
],
"config":{
"font":"Liberation Serif",
"view":{"stroke":"#222","strokeWidth":1.2},
"axis":{"grid":false,"domain":false,"tickColor":"#333","tickWidth":1,"labelColor":"#000","titleColor":"#000","labelFont":"Liberation Serif","titleFont":"Liberation Serif","titleFontWeight":"normal","labelFontSize":19,"titleFontSize":22}
}
}
